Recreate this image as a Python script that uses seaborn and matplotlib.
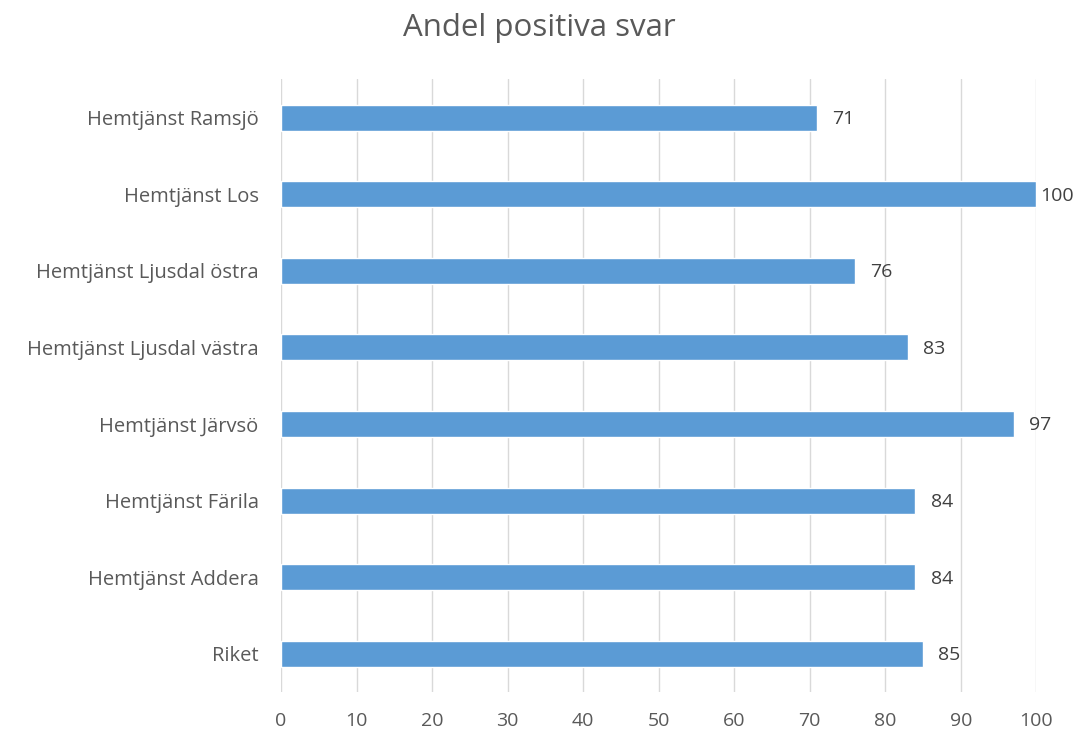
import matplotlib
matplotlib.use("Agg")
import matplotlib.pyplot as plt
import seaborn as sns
import pandas as pd

# data
units = ["Hemtjänst Ramsjö", "Hemtjänst Los", "Hemtjänst Ljusdal östra",
         "Hemtjänst Ljusdal västra", "Hemtjänst Järvsö", "Hemtjänst Färila",
         "Hemtjänst Addera", "Riket"]
values = [71, 100, 76, 83, 97, 84, 84, 85]
ticks = [0, 10, 20, 30, 40, 50, 60, 70, 80, 90, 100]

df = pd.DataFrame({"Enhet": units, "Andel": values})

sns.set_theme(style="white")
plt.rcParams['font.family'] = ['Open Sans', 'DejaVu Sans']

fig = plt.figure(figsize=(10.79, 7.34), dpi=100)
ax = fig.add_axes([0.2604, 0.057, 0.7, 0.835])

sns.barplot(data=df, x="Andel", y="Enhet", order=units, color="#5B9BD5",
            saturation=1, width=0.34, ax=ax)

# value labels; the one at the axis end is pulled in like Excel does
for i, v in enumerate(values):
    off = 3 if v >= ticks[-1] else 11
    ax.annotate(str(v), xy=(v, i), xytext=(off, -1), textcoords="offset points",
                va="center", ha="left", fontsize=14, color="#404040")

ax.set_xlim(0, 100)
ax.set_xticks(ticks)
ax.set_xticklabels([str(t) for t in ticks], fontsize=14, color="#595959")
ax.tick_params(axis="y", labelsize=14.5, labelcolor="#595959", length=0, pad=16)
ax.tick_params(axis="x", length=0, pad=14.5)
ax.set_xlabel("")
ax.set_ylabel("")
ax.xaxis.grid(True, color="#D9D9D9", linewidth=1)
ax.set_axisbelow(True)
for s in ax.spines.values():
    s.set_visible(False)

fig.suptitle("Andel positiva svar", fontsize=22.5, color="#595959", y=0.982)

fig.savefig("out.png", dpi=100)
